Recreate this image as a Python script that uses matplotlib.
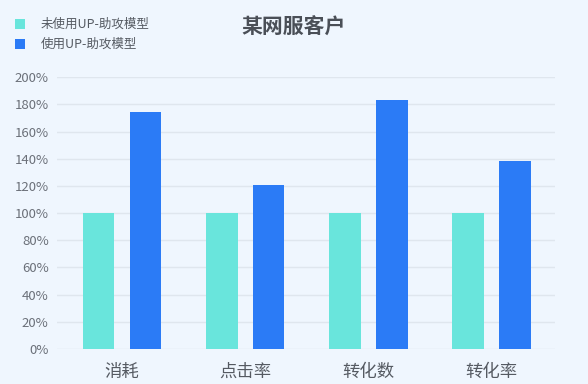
import matplotlib
matplotlib.use("Agg")
import matplotlib.pyplot as plt
import numpy as np

plt.rcParams['font.family'] = ['Noto Sans CJK SC', 'DejaVu Sans']

categories = ["消耗", "点击率", "转化数", "转化率"]
without_model = [100, 100, 100, 100]
with_model = [174.5, 121, 183.5, 138]
series_labels = ["未使用UP-助攻模型", "使用UP-助攻模型"]
yticks = [0, 20, 40, 60, 80, 100, 120, 140, 160, 180, 200]

bg = "#eff6fe"
teal = "#69e5dc"
blue = "#2b7bf6"

fig = plt.figure(figsize=(5.88, 3.84), dpi=100, facecolor=bg)
ax = fig.add_axes([0.097, 0.091, 0.847, 0.708], facecolor=bg)

x = np.arange(len(categories))
w = 0.257
off = 0.19
ax.bar(x - off, without_model, w, color=teal, label=series_labels[0], zorder=3)
ax.bar(x + off, with_model, w, color=blue, label=series_labels[1], zorder=3)

ax.set_xlim(-0.528, 3.517)
ax.set_ylim(0, 200)
ax.set_yticks(yticks)
ax.set_yticklabels([f"{v}%" for v in yticks], fontsize=9.5, color="#6b7079")
ax.set_xticks(x)
ax.set_xticklabels(categories, fontsize=12.5, color="#555a62")
ax.tick_params(length=0)
ax.tick_params(axis='x', pad=10)
ax.tick_params(axis='y', pad=6)
ax.grid(axis='y', color="#dfe6ee", linewidth=1, zorder=0)
for s in ax.spines.values():
    s.set_visible(False)

fig.text(0.499, 0.928, "某网服客户", ha='center', va='center', fontsize=15,
         fontweight='bold', color="#4a4f57")

fig.legend(loc='upper left', bbox_to_anchor=(0.006, 0.982), frameon=False,
           fontsize=9, handlelength=0.85, handleheight=0.85, handletextpad=1.2,
           labelspacing=0.55, labelcolor="#555a62")

fig.savefig("out.png", dpi=100, facecolor=bg)
